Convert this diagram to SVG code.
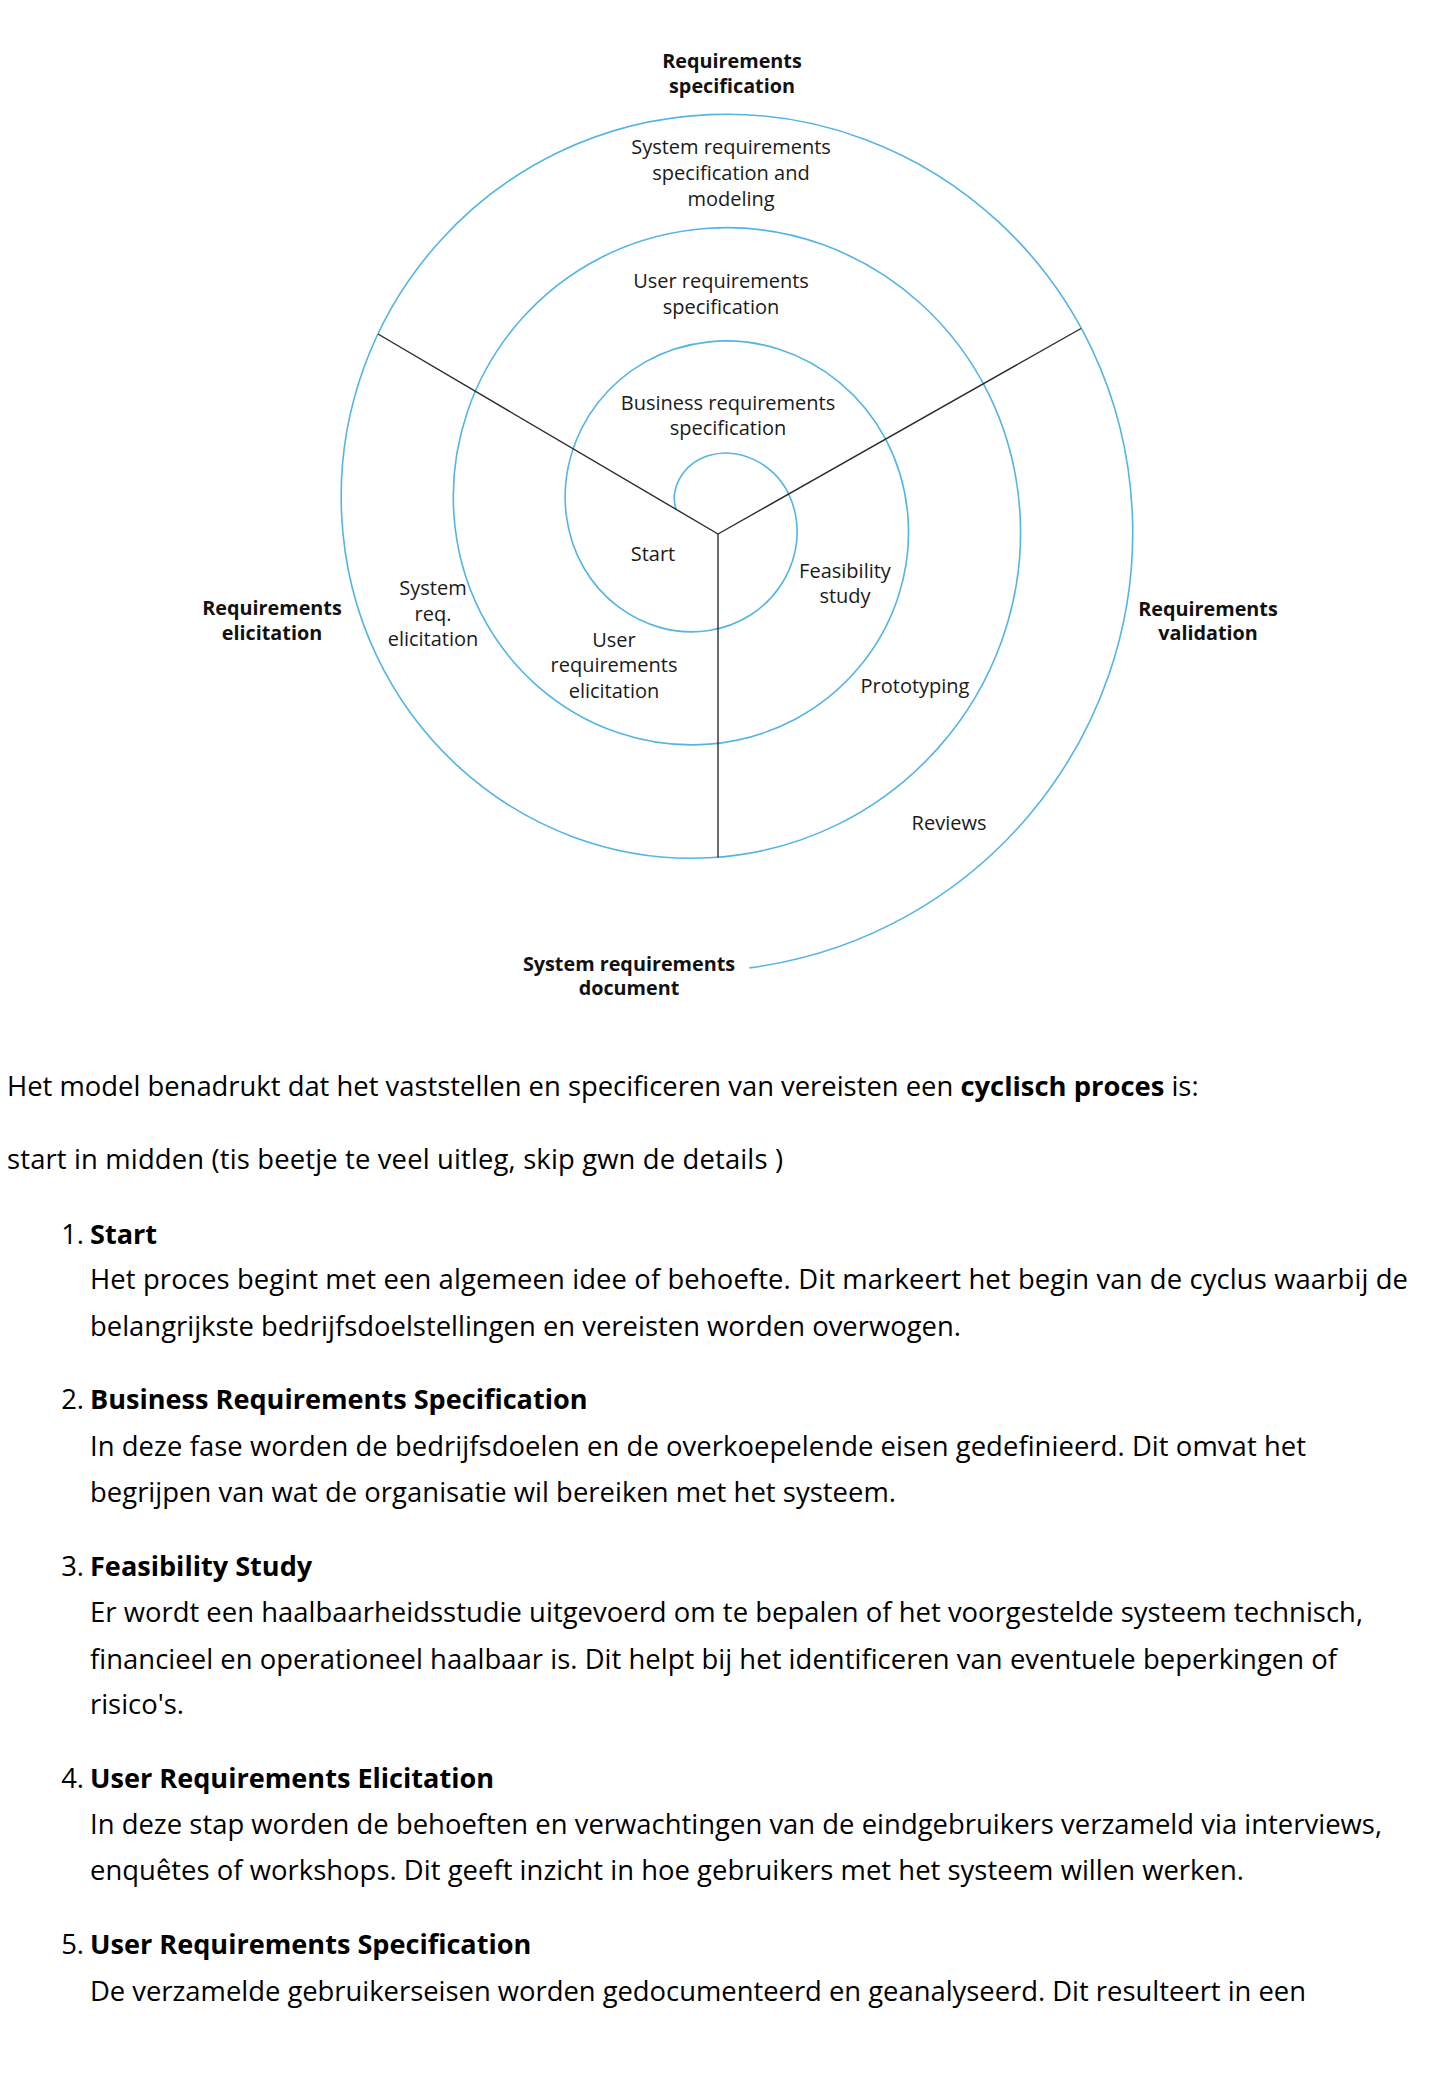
<svg xmlns="http://www.w3.org/2000/svg" width="1448" height="2074" viewBox="0 0 1448 2074">
<style>
  .spiral { fill: none; stroke: #55b4e6; stroke-width: 1.6; }
  .conn { stroke: #2b2b2b; stroke-width: 1.4; fill: none; }
  .lbl { font-family: 'Open Sans', 'Noto Sans', 'DejaVu Sans', sans-serif; font-size: 20px; fill: #1a1a1a; text-anchor: middle; }
  .lblb { font-family: 'Open Sans', 'Noto Sans', 'DejaVu Sans', sans-serif; font-size: 19.8px; font-weight: bold; fill: #111; text-anchor: middle; }
  .body { font-family: 'Open Sans', 'Noto Sans', 'DejaVu Sans', sans-serif; font-size: 27.4px; fill: #000; }
  .num { font-family: 'Open Sans', 'Noto Sans', 'DejaVu Sans', sans-serif; font-size: 27.4px; fill: #000; text-anchor: end; }
  .bold { font-weight: bold; }
  .head { font-family: 'Open Sans', 'Noto Sans', 'DejaVu Sans', sans-serif; font-size: 27.1px; font-weight: bold; fill: #000; }
</style>
<rect width="1448" height="2074" fill="#ffffff"/>

<g id="spiral">
  <path class="spiral" d="M 676.32 509.96 C 669.79 492.28 679.76 464.46 708.9 455.45 C 741.2 445.46 785.58 466.24 795.45 514.6 C 805.32 562.96 772.21 620.56 708.9 630.55 C 645.59 640.54 576.07 594.33 566.2 514.6 C 556.33 434.87 614.58 351.83 708.9 341.84 C 803.22 331.85 897.88 403.5 907.75 514.6 C 917.62 625.7 834.23 734.17 708.9 744.16 C 583.57 754.15 463.77 657.07 453.9 514.6 C 444.03 372.13 552.56 238.23 708.9 228.24 C 865.24 218.25 1010.18 340.76 1020.05 514.6 C 1029.92 688.44 896.25 847.77 708.9 857.76 C 521.55 867.75 351.47 719.81 341.6 514.6 C 331.73 309.39 490.53 124.63 708.9 114.64 C 927.27 104.65 1122.48 278.02 1132.35 514.6 C 1141.6 736.32 980.44 937.41 749.34 967.9"/>
</g>

<g id="connectors">
  <line class="conn" x1="718" y1="534" x2="378" y2="334"/>
  <line class="conn" x1="718" y1="534" x2="1081" y2="328.5"/>
  <line class="conn" x1="718" y1="534" x2="718" y2="857.5"/>
</g>

<g id="node-requirements-specification">
  <text class="lblb" x="732" y="68">Requirements</text>
  <text class="lblb" x="732" y="93">specification</text>
</g>
<g id="node-system-req-spec-modeling">
  <text class="lbl" x="731" y="154">System requirements</text>
  <text class="lbl" x="731" y="180">specification and</text>
  <text class="lbl" x="731" y="206">modeling</text>
</g>
<g id="node-user-req-spec">
  <text class="lbl" x="721" y="288">User requirements</text>
  <text class="lbl" x="721" y="314">specification</text>
</g>
<g id="node-business-req-spec">
  <text class="lbl" x="728" y="410">Business requirements</text>
  <text class="lbl" x="728" y="435">specification</text>
</g>
<g id="node-start">
  <text class="lbl" x="653" y="561">Start</text>
</g>
<g id="node-feasibility-study">
  <text class="lbl" x="845" y="578">Feasibility</text>
  <text class="lbl" x="845" y="603">study</text>
</g>
<g id="node-user-req-elicitation">
  <text class="lbl" x="614" y="646.5">User</text>
  <text class="lbl" x="614" y="672">requirements</text>
  <text class="lbl" x="614" y="697.5">elicitation</text>
</g>
<g id="node-system-req-elicitation">
  <text class="lbl" x="433" y="595">System</text>
  <text class="lbl" x="433" y="620.5">req.</text>
  <text class="lbl" x="433" y="646">elicitation</text>
</g>
<g id="node-prototyping">
  <text class="lbl" x="915" y="693">Prototyping</text>
</g>
<g id="node-reviews">
  <text class="lbl" x="949" y="830">Reviews</text>
</g>
<g id="node-requirements-elicitation">
  <text class="lblb" x="272" y="615">Requirements</text>
  <text class="lblb" x="272" y="640">elicitation</text>
</g>
<g id="node-requirements-validation">
  <text class="lblb" x="1208" y="616">Requirements</text>
  <text class="lblb" x="1208" y="640">validation</text>
</g>
<g id="node-system-requirements-document">
  <text class="lblb" x="629" y="971">System requirements</text>
  <text class="lblb" x="629" y="995">document</text>
</g>

<g id="explanation">
  <text class="body" x="7" y="1095.7">Het model benadrukt dat het vaststellen en specificeren van vereisten een <tspan class="bold">cyclisch proces</tspan> is:</text>
  <text class="body" x="7" y="1169.2" textLength="776">start in midden (tis beetje te veel uitleg, skip gwn de details )</text>

  <text class="num" x="84" y="1243.7">1.</text>
  <text class="head" x="90" y="1243.7">Start</text>
  <text class="body" x="90" y="1289.2" textLength="1318">Het proces begint met een algemeen idee of behoefte. Dit markeert het begin van de cyclus waarbij de</text>
  <text class="body" x="90" y="1335.7" textLength="871">belangrijkste bedrijfsdoelstellingen en vereisten worden overwogen.</text>

  <text class="num" x="84" y="1409.2">2.</text>
  <text class="head" x="90" y="1409.2">Business Requirements Specification</text>
  <text class="body" x="90" y="1455.7" textLength="1216">In deze fase worden de bedrijfsdoelen en de overkoepelende eisen gedefinieerd. Dit omvat het</text>
  <text class="body" x="90" y="1502.2" textLength="806">begrijpen van wat de organisatie wil bereiken met het systeem.</text>

  <text class="num" x="84" y="1576.2">3.</text>
  <text class="head" x="90" y="1576.2">Feasibility Study</text>
  <text class="body" x="90" y="1622.2" textLength="1273">Er wordt een haalbaarheidsstudie uitgevoerd om te bepalen of het voorgestelde systeem technisch,</text>
  <text class="body" x="90" y="1668.7" textLength="1247">financieel en operationeel haalbaar is. Dit helpt bij het identificeren van eventuele beperkingen of</text>
  <text class="body" x="90" y="1714.2">risico's.</text>

  <text class="num" x="84" y="1788.2">4.</text>
  <text class="head" x="90" y="1788.2">User Requirements Elicitation</text>
  <text class="body" x="90" y="1834.2" textLength="1292">In deze stap worden de behoeften en verwachtingen van de eindgebruikers verzameld via interviews,</text>
  <text class="body" x="90" y="1880.2" textLength="1154">enquêtes of workshops. Dit geeft inzicht in hoe gebruikers met het systeem willen werken.</text>

  <text class="num" x="84" y="1954.2">5.</text>
  <text class="head" x="90" y="1954.2">User Requirements Specification</text>
  <text class="body" x="90" y="2000.7" textLength="1216">De verzamelde gebruikerseisen worden gedocumenteerd en geanalyseerd. Dit resulteert in een</text>
</g>
</svg>
